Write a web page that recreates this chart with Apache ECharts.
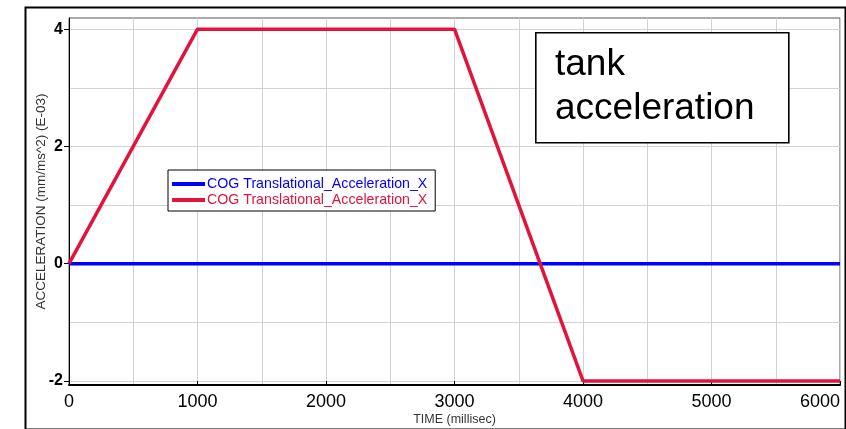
<!DOCTYPE html>
<html>
<head>
<meta charset="utf-8">
<script src="https://cdn.jsdelivr.net/npm/echarts@6/dist/echarts.min.js"></script>
<style>
  html, body { margin: 0; padding: 0; background: #fff; }
  #chart { width: 846px; height: 429px; }
</style>
</head>
<body>
<div id="chart"></div>
<script>
// Time samples (ms) and the two acceleration curves (mm/ms^2, E-03)
const timeMs = [0, 1000, 3000, 4000, 6000];
const accelRed = [0, 4, 4, -2, -2];
const timeBlue = [0, 6000];
const accelBlue = [0, 0];
// Labelled ticks and grid positions
const xTickLabels = [0, 1000, 2000, 3000, 4000, 5000, 6000];
const xGrid = [0, 500, 1000, 1500, 2000, 2500, 3000, 3500, 4000, 4500, 5000, 5500, 6000];
const yTickLabels = [-2, 0, 2, 4];
const yGrid = [-2, -1, 0, 1, 2, 3, 4];
const seriesName = 'COG Translational_Acceleration_X';

const X_MIN = 0, X_MAX = 6000, Y_MIN = -2.07, Y_MAX = 4.19;

const chart = echarts.init(document.getElementById('chart'));
const font = 'Liberation Sans, Arial, sans-serif';

chart.setOption({
  animation: false,
  backgroundColor: '#fff',
  grid: { left: 69, right: 6, top: 18, bottom: 44, show: true, borderColor: '#555', borderWidth: 1,
    outerBoundsMode: 'none', containLabel: false },
  xAxis: [
    {
      // main axis: labels, grid
      type: 'value', min: X_MIN, max: X_MAX,
      name: 'TIME (millisec)', nameLocation: 'middle', nameGap: 28, nameMoveOverlap: false,
      nameTextStyle: { fontFamily: font, fontSize: 12.5, color: '#333', verticalAlign: 'top' },
      axisLine: { show: true, onZero: false, lineStyle: { color: '#000', width: 2 } },
      axisTick: { show: false, customValues: xGrid },
      axisLabel: { customValues: xTickLabels, margin: 8, fontFamily: font, fontSize: 18, color: '#000',
        alignMaxLabel: 'right', formatter: v => String(v) },
      splitLine: { show: true, lineStyle: { color: '#d2d2d2', width: 1 } }
    },
    {
      // tick marks at labelled values only
      type: 'value', min: X_MIN, max: X_MAX, position: 'bottom', gridIndex: 0,
      axisLine: { show: false, onZero: false },
      axisTick: { show: true, inside: true, length: 4, customValues: xTickLabels, lineStyle: { color: '#000' } },
      axisLabel: { show: false },
      splitLine: { show: false }
    }
  ],
  yAxis: [
    {
      type: 'value', min: Y_MIN, max: Y_MAX,
      name: 'ACCELERATION (mm/ms^2) (E-03)', nameLocation: 'middle', nameGap: 21, nameMoveOverlap: false,
      nameTextStyle: { fontFamily: font, fontSize: 13.5, color: '#333' },
      axisLine: { show: true, onZero: false, lineStyle: { color: '#000', width: 1 } },
      axisTick: { show: false, customValues: yGrid },
      axisLabel: { customValues: yTickLabels, margin: 6, fontFamily: font, fontSize: 16, fontWeight: 'bold', color: '#000' },
      splitLine: { show: true, lineStyle: { color: '#d2d2d2', width: 1 } }
    },
    {
      type: 'value', min: Y_MIN, max: Y_MAX, position: 'left', gridIndex: 0,
      axisLine: { show: false, onZero: false },
      axisTick: { show: true, length: 5, customValues: yTickLabels, lineStyle: { color: '#000' } },
      axisLabel: { show: false },
      splitLine: { show: false }
    }
  ],
  legend: {
    left: 168, top: 170, orient: 'vertical',
    backgroundColor: '#fff', borderColor: '#000', borderWidth: 1,
    padding: [7, 4, 4, 4], itemGap: 2, itemWidth: 33, itemHeight: 4,
    icon: 'rect',
    data: [
      { name: seriesName, textStyle: { color: '#0000ff' } },
      { name: seriesName + ' ', textStyle: { color: '#e0143c' } }
    ],
    textStyle: { fontFamily: font, fontSize: 14.2, padding: [0, 0, 0, -3] }
  },
  graphic: [
    {
      type: 'rect', left: 535, top: 32, z: 100,
      shape: { width: 253, height: 110 },
      style: { fill: '#fff', stroke: '#000', lineWidth: 1.6 }
    },
    {
      type: 'text', left: 555, top: 43, z: 101,
      style: { text: 'tank\nacceleration', font: '37px ' + font, lineHeight: 44, fill: '#000' }
    },
    {
      type: 'rect', left: 23, top: 5, z: 200, silent: true,
      shape: { width: 820, height: 422 },
      style: { fill: 'none', stroke: '#000', lineWidth: 2 }
    }
  ],
  series: [
    {
      name: seriesName, type: 'line', showSymbol: false,
      data: timeBlue.map((t, i) => [t, accelBlue[i]]),
      lineStyle: { color: '#0000ff', width: 3.5 }, itemStyle: { color: '#0000ff' }, z: 3
    },
    {
      name: seriesName + ' ', type: 'line', showSymbol: false,
      data: timeMs.map((t, i) => [t, accelRed[i]]),
      lineStyle: { color: '#e0143c', width: 3.5 }, itemStyle: { color: '#e0143c' }, z: 4
    }
  ]
});
</script>
</body>
</html>
